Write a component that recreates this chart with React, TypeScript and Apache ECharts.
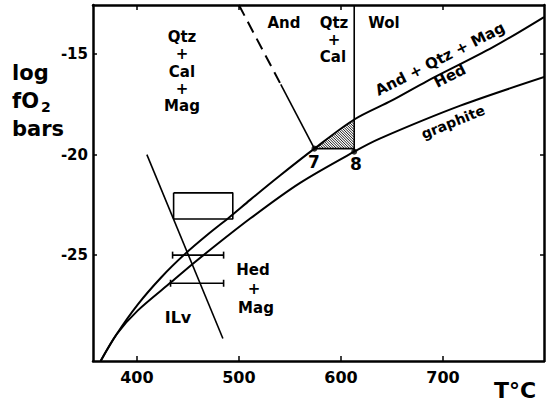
import React, { useEffect, useRef } from "react";
import * as echarts from "echarts";

// ---- data (T in °C, log fO2 in bars) ----
const xTicks = [400, 500, 600, 700];
const yTicks = [-25, -20, -15];

const upperCurveT = [364.5, 380, 401, 424, 447, 470, 491, 511, 540, 574, 613, 650, 684, 749, 799];
const upperCurveF = [-30.27, -28.95, -27.45, -26.1, -24.95, -23.95, -23.1, -22.25, -21.05, -19.7, -18.25, -17.3, -16.35, -14.65, -13.15];

const graphiteT = [364.5, 380, 401, 434, 457, 511, 560, 613, 638, 717, 800];
const graphiteF = [-30.27, -28.95, -27.75, -26.33, -25.34, -23.18, -21.4, -19.85, -19.2, -17.56, -16.12];

const andDashedT = [500, 541];
const andDashedF = [-12.55, -16.5];
const andSolidT = [541, 574];
const andSolidF = [-16.5, -19.7];

const wolT = [613, 613];
const wolF = [-12.55, -19.85];

const baseT = [574, 613];
const baseF = [-19.7, -19.7];

const ilvT = [409.8, 484.3];
const ilvF = [-20.0, -29.15];

const rectT = [436, 494];
const rectF = [-21.9, -23.2];

const errLowT = [435, 433];
const errHighT = [485, 485];
const errF = [-25.0, -26.4];

const hatchT = [574, 613, 613];
const hatchF = [-19.7, -19.7, -18.25];

const pointT = [574, 613];
const pointF = [-19.7, -19.85];

const FONT = '"DejaVu Sans", "Liberation Sans", Arial, sans-serif';

const zip = (a: number[], b: number[]) => a.map((v, i) => [v, b[i]]);

function txt(text: string, x: number, y: number, size = 15, rot = 0, align = "center") {
  return {
    type: "text",
    x,
    y,
    rotation: (rot * Math.PI) / 180,
    z: 100,
    style: {
      text,
      fill: "#000",
      font: `bold ${size}px ${FONT}`,
      textAlign: align,
      align,
      textVerticalAlign: "middle",
      verticalAlign: "middle",
    },
  };
}

export default function App() {
  const ref = useRef<HTMLDivElement>(null);
  useEffect(() => {
    if (!ref.current) return;
    const chart = echarts.init(ref.current, undefined, { renderer: "svg" });
    const axisLine = { show: true, onZero: false, lineStyle: { color: "#000", width: 2.5 } };
    const lineS = (name: string, data: number[][], width: number, extra: any = {}) => ({
      type: "line",
      name,
      data,
      symbol: "none",
      silent: true,
      lineStyle: { color: "#000", width, ...(extra.lineStyle || {}) },
      ...(extra.smooth ? { smooth: extra.smooth } : {}),
    });
    const rectData = [
      [rectT[0], rectF[0]],
      [rectT[1], rectF[0]],
      [rectT[1], rectF[1]],
      [rectT[0], rectF[1]],
      [rectT[0], rectF[0]],
    ];
    const option: any = {
      animation: false,
      backgroundColor: "#fff",
      grid: { left: 93, right: 8, top: 5, bottom: 45, containLabel: false, outerBoundsMode: "none" },
      xAxis: [
        {
          type: "value",
          min: 357,
          max: 799,
          position: "bottom",
          axisLine,
          splitLine: { show: false },
          axisTick: { show: true, inside: true, length: 5, customValues: xTicks, lineStyle: { color: "#000", width: 1.5 } },
          axisLabel: { customValues: xTicks, color: "#000", fontSize: 16, fontWeight: "bold", fontFamily: FONT, margin: 8 },
        },
        {
          type: "value",
          min: 357,
          max: 799,
          position: "top",
          axisLine,
          splitLine: { show: false },
          axisTick: { show: true, inside: true, length: 5, customValues: xTicks, lineStyle: { color: "#000", width: 1.5 } },
          axisLabel: { show: false },
        },
      ],
      yAxis: [
        {
          type: "value",
          min: -30.27,
          max: -12.55,
          position: "left",
          axisLine,
          splitLine: { show: false },
          axisTick: { show: true, inside: true, length: 4, customValues: yTicks, lineStyle: { color: "#000", width: 1.5 } },
          axisLabel: { customValues: yTicks, color: "#000", fontSize: 15, fontWeight: "bold", fontFamily: FONT, margin: 5 },
        },
        {
          type: "value",
          min: -30.27,
          max: -12.55,
          position: "right",
          axisLine,
          splitLine: { show: false },
          axisTick: { show: true, inside: true, length: 4, customValues: yTicks, lineStyle: { color: "#000", width: 1.5 } },
          axisLabel: { show: false },
        },
      ],
      series: [
        lineS("upper", zip(upperCurveT, upperCurveF), 2, { smooth: 0.3 }),
        lineS("graphite", zip(graphiteT, graphiteF), 2, { smooth: 0.3 }),
        lineS("andDashed", zip(andDashedT, andDashedF), 2, { lineStyle: { type: [12, 7] } }),
        lineS("andSolid", zip(andSolidT, andSolidF), 1.6),
        lineS("wol", zip(wolT, wolF), 1.6),
        lineS("base", zip(baseT, baseF), 1.6),
        lineS("ilv", zip(ilvT, ilvF), 1.6),
        lineS("rect", rectData, 1.6),
        {
          type: "custom",
          name: "errorbars",
          silent: true,
          data: errF.map((f, i) => [errLowT[i], errHighT[i], f]),
          encode: { x: [0, 1], y: 2 },
          renderItem: (_p: any, api: any) => {
            const y = api.value(2);
            const a = api.coord([api.value(0), y]);
            const b = api.coord([api.value(1), y]);
            const st = { stroke: "#000", lineWidth: 1.6 };
            return {
              type: "group",
              children: [
                { type: "line", shape: { x1: a[0], y1: a[1], x2: b[0], y2: b[1] }, style: st },
                { type: "line", shape: { x1: a[0], y1: a[1] - 3.5, x2: a[0], y2: a[1] + 3.5 }, style: st },
                { type: "line", shape: { x1: b[0], y1: b[1] - 3.5, x2: b[0], y2: b[1] + 3.5 }, style: st },
              ],
            };
          },
        },
        {
          type: "custom",
          name: "hatch",
          silent: true,
          data: [[hatchT[0], hatchF[0]]],
          renderItem: (_p: any, api: any) => {
            const pts = hatchT.map((t, i) => api.coord([t, hatchF[i]]));
            const cs = pts.map((p: number[]) => p[0] - p[1]);
            const cmin = Math.min(...cs);
            const cmax = Math.max(...cs);
            const children: any[] = [];
            for (let c = cmin + 1.5; c < cmax; c += 2.6) {
              const hits: number[][] = [];
              for (let i = 0; i < pts.length; i++) {
                const a = pts[i];
                const b = pts[(i + 1) % pts.length];
                const fa = a[0] - a[1] - c;
                const fb = b[0] - b[1] - c;
                if ((fa <= 0 && fb >= 0) || (fa >= 0 && fb <= 0)) {
                  if (fa === fb) continue;
                  const s = fa / (fa - fb);
                  hits.push([a[0] + s * (b[0] - a[0]), a[1] + s * (b[1] - a[1])]);
                }
              }
              if (hits.length >= 2) {
                hits.sort((p, q) => p[0] - q[0]);
                const h0 = hits[0];
                const h1 = hits[hits.length - 1];
                children.push({
                  type: "line",
                  shape: { x1: h0[0], y1: h0[1], x2: h1[0], y2: h1[1] },
                  style: { stroke: "#000", lineWidth: 0.9 },
                });
              }
            }
            return { type: "group", children };
          },
        },
        {
          type: "scatter",
          name: "points",
          silent: true,
          data: zip(pointT, pointF),
          symbol: "circle",
          symbolSize: 6,
          itemStyle: { color: "#000" },
        },
      ],
      graphic: [
        txt("Qtz", 182, 37),
        txt("+", 182, 54),
        txt("Cal", 182, 72),
        txt("+", 182, 89),
        txt("Mag", 182, 106),
        txt("And", 284, 23),
        txt("Qtz", 334, 23),
        txt("+", 334, 40),
        txt("Cal", 333, 57),
        txt("Wol", 384, 23),
        txt("And + Qtz + Mag", 440, 59, 15, 27),
        txt("Hed", 450, 76, 15, 27),
        txt("graphite", 453, 122, 14, 22),
        txt("7", 314, 162, 17),
        txt("8", 356, 164, 17),
        txt("Hed", 253, 270),
        txt("+", 254, 289),
        txt("Mag", 256, 308),
        txt("ILv", 178, 317, 16),
        txt("log", 12, 73, 21, 0, "left"),
        txt("fO", 12, 101, 21, 0, "left"),
        txt("2", 41, 107, 14, 0, "left"),
        txt("bars", 12, 129, 21, 0, "left"),
        txt("T°C", 515, 390, 22),
      ],
    };
    chart.setOption(option);
    return () => chart.dispose();
  }, []);
  return <div ref={ref} style={{ position: "fixed", left: 0, top: 0, width: 552, height: 406 }} />;
}
